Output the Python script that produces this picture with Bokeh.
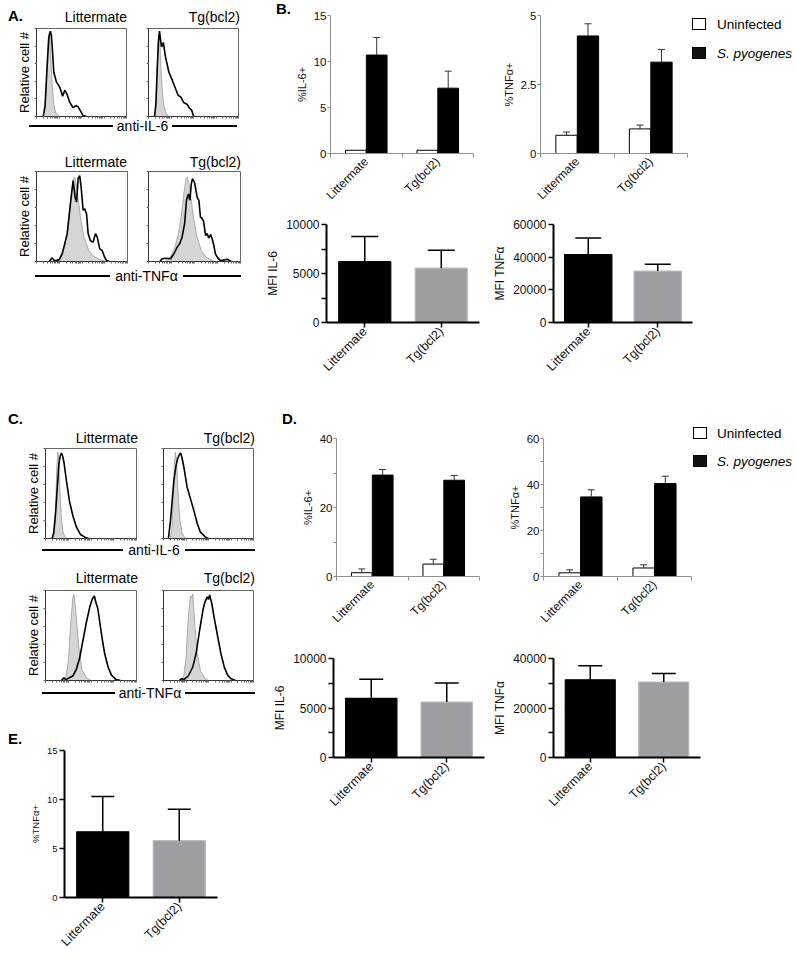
import math
from bokeh.plotting import figure
from bokeh.models import (Range1d, FixedTicker, ColumnDataSource, Whisker, TeeHead,
                          Div, Spacer)
from bokeh.layouts import row, column
from bokeh.embed import file_html
from bokeh.resources import INLINE

FONT = "Liberation Sans"
GRAY = "#9d9da2"
GRAY_EDGE = "#b9b9bd"
EXCEL_AXIS = "#8f8f8f"

# ---------------- data ----------------
categories = ["Littermate", "Tg(bcl2)"]
series_names = ["Uninfected", "S. pyogenes"]

# Panel B
b_il6_pct_uninf = [0.35, 0.35]
b_il6_pct_uninf_sem = [0.0, 0.0]
b_il6_pct_inf = [10.7, 7.1]
b_il6_pct_inf_sem = [1.9, 1.85]
b_tnf_pct_uninf = [0.66, 0.89]
b_tnf_pct_uninf_sem = [0.12, 0.14]
b_tnf_pct_inf = [4.26, 3.31]
b_tnf_pct_inf_sem = [0.44, 0.46]
b_mfi_il6 = [6210, 5545]
b_mfi_il6_sem = [2570, 1815]
b_mfi_tnf = [41600, 31500]
b_mfi_tnf_sem = [10100, 4100]

# Panel D
d_il6_pct_uninf = [1.1, 3.6]
d_il6_pct_uninf_sem = [1.1, 1.4]
d_il6_pct_inf = [29.4, 27.9]
d_il6_pct_inf_sem = [1.6, 1.4]
d_tnf_pct_uninf = [1.6, 3.7]
d_tnf_pct_uninf_sem = [1.3, 1.4]
d_tnf_pct_inf = [34.6, 40.4]
d_tnf_pct_inf_sem = [3.1, 3.2]
d_mfi_il6 = [5970, 5600]
d_mfi_il6_sem = [1930, 1930]
d_mfi_tnf = [31400, 30500]
d_mfi_tnf_sem = [5700, 3400]

# Panel E
e_tnf_pct = [6.7, 5.8]
e_tnf_pct_sem = [3.6, 3.2]

# y ticks: labelled ticks and unlabelled ticks
b_il6_ticks, b_il6_minor = [0, 5, 10, 15], []
b_il6_tick_labels = ["0", "5", "10", "15"]
b_tnf_ticks, b_tnf_minor = [0, 2.5, 5], []
b_tnf_tick_labels = ["0", "2.5", "5"]
mfi_il6_ticks, mfi_il6_minor = [0, 5000, 10000], [2500, 7500]
mfi_il6_tick_labels = ["0", "5000", "10000"]
b_mfi_tnf_ticks, b_mfi_tnf_minor = [0, 20000, 40000, 60000], []
b_mfi_tnf_tick_labels = ["0", "20000", "40000", "60000"]
d_il6_ticks, d_il6_minor = [0, 20, 40], [10, 30]
d_il6_tick_labels = ["0", "20", "40"]
d_tnf_ticks, d_tnf_minor = [0, 20, 40, 60], [10, 30, 50]
d_tnf_tick_labels = ["0", "20", "40", "60"]
d_mfi_tnf_ticks, d_mfi_tnf_minor = [0, 20000, 40000], [10000, 30000]
d_mfi_tnf_tick_labels = ["0", "20000", "40000"]
e_ticks, e_minor = [0, 5, 10, 15], []
e_tick_labels = ["0", "5", "10", "15"]

# Flow histograms (x: log decades 0-4, y: % of max)
a_il6_lit_iso_x = [0.28, 0.36, 0.42, 0.47, 0.52, 0.56, 0.60, 0.65, 0.71, 0.78, 0.86, 0.98]
a_il6_lit_iso_y = [0, 6, 25, 60, 88, 95, 88, 60, 30, 12, 4, 0]
a_il6_lit_x = [0.30, 0.38, 0.47, 0.55, 0.62, 0.66, 0.70, 0.77, 0.89, 1.04, 1.16, 1.26, 1.36,
               1.48, 1.63, 1.75, 1.85, 1.96, 2.07, 2.22]
a_il6_lit_y = [0, 12, 56, 90, 97, 92, 79, 50, 39, 33, 23, 30, 25, 16, 10, 12.5, 11, 6, 1, 0]
a_il6_tg_iso_x = [0.24, 0.31, 0.36, 0.40, 0.45, 0.50, 0.55, 0.60, 0.66, 0.75, 0.90]
a_il6_tg_iso_y = [0, 8, 30, 60, 93, 85, 58, 35, 16, 5, 0]
a_il6_tg_x = [0.27, 0.33, 0.39, 0.44, 0.49, 0.54, 0.58, 0.66, 0.76, 0.91, 1.06, 1.21, 1.32,
              1.44, 1.56, 1.71, 1.81, 1.92, 2.01]
a_il6_tg_y = [0, 15, 56, 85, 97, 86, 79, 84, 67, 50, 41, 31, 24, 22, 16, 14, 10, 7, 0]

a_tnf_lit_iso_x = [0.85, 1.0, 1.2, 1.35, 1.45, 1.55, 1.62, 1.68, 1.75, 1.85, 1.95, 2.1, 2.3,
                   2.5, 2.8, 3.05]
a_tnf_lit_iso_y = [0, 3, 14, 32, 55, 80, 92, 94, 85, 66, 46, 26, 12, 6, 2, 0]
a_tnf_lit_x = [0.55, 0.69, 0.78, 0.84, 1.0, 1.13, 1.35, 1.49, 1.61, 1.70, 1.76, 1.83, 1.90,
               1.96, 2.05, 2.12, 2.20, 2.27, 2.37, 2.49, 2.59, 2.67, 2.78, 2.89, 2.99, 3.08, 3.2]
a_tnf_lit_y = [0, 4, 1, 1, 2, 8.5, 31, 64, 90, 71, 66, 92, 95.5, 83, 57, 58.5, 53, 31, 23,
               21.5, 31, 27, 14, 12, 5, 1, 0]
a_tnf_tg_iso_x = [0.75, 0.9, 1.1, 1.3, 1.45, 1.55, 1.63, 1.68, 1.75, 1.85, 1.95, 2.1, 2.3,
                  2.5, 2.7, 2.9]
a_tnf_tg_iso_y = [0, 3, 12, 30, 55, 78, 92, 94, 88, 70, 50, 28, 12, 5, 2, 0]
a_tnf_tg_x = [0.5, 0.59, 0.74, 0.96, 1.10, 1.25, 1.36, 1.46, 1.57, 1.65, 1.73, 1.80, 1.86,
              1.91, 2.0, 2.12, 2.19, 2.26, 2.33, 2.40, 2.48, 2.55, 2.62, 2.70, 2.77, 2.84,
              2.91, 3.01, 3.13, 3.27, 3.42, 3.53, 3.6]
a_tnf_tg_y = [0, 3, 3.7, 3, 8.5, 16, 20, 27, 42, 68, 75, 68, 86, 92, 88, 71, 68, 49, 48, 44,
              29, 31, 26, 30, 25, 18, 8.5, 4, 1, 1.5, 2.5, 1, 0]

c_il6_lit_iso_x = [0.33, 0.40, 0.45, 0.50, 0.54, 0.58, 0.63, 0.70, 0.78, 0.90]
c_il6_lit_iso_y = [0, 10, 40, 80, 96, 88, 55, 22, 6, 0]
c_il6_lit_x = [0.29, 0.36, 0.44, 0.52, 0.59, 0.65, 0.70, 0.75, 0.81, 0.92, 1.05, 1.20, 1.36,
               1.54, 1.76, 1.90]
c_il6_lit_y = [0, 6, 27, 58, 83, 92, 95, 92, 85, 64, 42, 25.5, 12.6, 4.4, 1, 0]
c_il6_tg_iso_x = [0.30, 0.37, 0.43, 0.48, 0.53, 0.58, 0.64, 0.72, 0.82, 0.98]
c_il6_tg_iso_y = [0, 10, 42, 82, 96, 86, 55, 22, 6, 0]
c_il6_tg_x = [0.22, 0.31, 0.46, 0.55, 0.62, 0.70, 0.76, 0.82, 0.90, 1.05, 1.20, 1.35, 1.50,
              1.64, 1.87, 2.0]
c_il6_tg_y = [0, 20, 64, 80, 88, 93, 95, 90, 80, 57, 44, 31, 16.6, 7, 1.5, 0]

c_tnf_lit_iso_x = [0.75, 0.9, 1.0, 1.1, 1.2, 1.25, 1.32, 1.45, 1.6, 1.8, 2.0]
c_tnf_lit_iso_y = [0, 5, 20, 60, 92, 96, 80, 40, 12, 3, 0]
c_tnf_lit_x = [0.7, 0.8, 0.9, 1.05, 1.2, 1.35, 1.5, 1.65, 1.8, 1.95, 2.05, 2.15, 2.2, 2.3,
               2.4, 2.5, 2.6, 2.75, 2.9, 3.1, 3.3]
c_tnf_lit_y = [0, 3, 1, 3, 5, 12, 25, 45, 65, 82, 90, 94, 88, 80, 62, 45, 30, 15, 6, 1, 0]
c_tnf_tg_iso_x = [0.75, 0.9, 1.0, 1.1, 1.2, 1.25, 1.3, 1.4, 1.5, 1.65, 1.85, 2.0]
c_tnf_tg_iso_y = [0, 5, 25, 70, 94, 92, 96, 60, 30, 10, 2, 0]
c_tnf_tg_x = [0.7, 0.8, 0.9, 1.1, 1.3, 1.45, 1.6, 1.75, 1.85, 1.95, 2.0, 2.05, 2.15, 2.25,
              2.4, 2.55, 2.7, 2.85, 3.0, 3.2]
c_tnf_tg_y = [0, 2, 1, 5, 15, 30, 55, 78, 88, 93, 90, 95, 85, 70, 50, 30, 15, 6, 2, 0]

# ---------------- helpers ----------------
centers = [i + 0.5 for i in range(len(categories))]
LOG_TICKS = [d + math.log10(k) for d in range(4) for k in range(1, 10)] + [4]


def base_fig(w, h, l, r, t, b, xr, yr):
    p = figure(width=w, height=h, min_border_left=l, min_border_right=r,
               min_border_top=t, min_border_bottom=b, x_range=xr, y_range=yr,
               output_backend="svg", toolbar_location=None)
    p.grid.visible = False
    p.outline_line_color = None
    p.background_fill_color = "white"
    p.border_fill_color = "white"
    return p


def add_whisker(p, xs, vals, sems, color, lw, cap):
    keep = [k for k, s in enumerate(sems) if s > 0]
    if not keep:
        return
    src = ColumnDataSource(dict(x=[xs[k] for k in keep],
                                lo=[vals[k] for k in keep],
                                hi=[vals[k] + sems[k] for k in keep]))
    p.add_layout(Whisker(source=src, base="x", lower="lo", upper="hi",
                         line_color=color, line_width=lw, level="overlay",
                         upper_head=TeeHead(size=cap, line_color=color, line_width=lw),
                         lower_head=None))


def style_y(ax, ticks, minor, labels, ylabel, tick_size, label_size, color, lw, tick_out,
            label_standoff, axis_standoff):
    ax.ticker = FixedTicker(ticks=ticks, minor_ticks=minor)
    ax.major_label_overrides = {t: s for t, s in zip(ticks, labels)}
    ax.axis_line_color = color
    ax.axis_line_width = lw
    tw = 1.5 if lw > 1 else 1
    ax.major_tick_line_color = color
    ax.major_tick_line_width = tw
    ax.minor_tick_line_color = color
    ax.minor_tick_line_width = tw
    ax.major_tick_out = tick_out
    ax.major_tick_in = 0
    ax.minor_tick_out = tick_out
    ax.minor_tick_in = 0
    ax.major_label_standoff = label_standoff
    ax.major_label_text_font = FONT
    ax.major_label_text_font_size = f"{tick_size}px"
    ax.major_label_text_color = "#111111"
    ax.axis_label = ylabel
    ax.axis_label_text_font = FONT
    ax.axis_label_text_font_style = "normal"
    ax.axis_label_text_font_size = f"{label_size}px"
    ax.axis_label_text_color = "#111111"
    ax.axis_label_standoff = axis_standoff


def excel_chart(w, h, l, r, t, b, ymax, ticks, minor, labels, ylabel,
                uninf, uninf_sem, inf, inf_sem):
    p = base_fig(w, h, l, r, t, b, Range1d(0, len(categories)), Range1d(0, ymax))
    xu = [c - 0.146 for c in centers]
    xi = [c + 0.146 for c in centers]
    p.vbar(x="x", top="top", width=0.29, source=ColumnDataSource(dict(x=xu, top=uninf)),
           fill_color="white", line_color="black", line_width=1)
    p.vbar(x="x", top="top", width=0.29, source=ColumnDataSource(dict(x=xi, top=inf)),
           fill_color="black", line_color="black", line_width=1)
    add_whisker(p, xu, uninf, uninf_sem, "#333333", 1, 7)
    add_whisker(p, xi, inf, inf_sem, "#333333", 1, 7)
    style_y(p.yaxis[0], ticks, minor, labels, ylabel, 11.5, 11, EXCEL_AXIS, 1, 3, 1, 3)
    xa = p.xaxis[0]
    xa.ticker = FixedTicker(ticks=centers, minor_ticks=list(range(len(categories) + 1)))
    xa.major_label_overrides = {c: s for c, s in zip(centers, categories)}
    xa.axis_line_color = EXCEL_AXIS
    xa.major_tick_out = 0
    xa.major_tick_in = 0
    xa.minor_tick_out = 4
    xa.minor_tick_in = 0
    xa.minor_tick_line_color = EXCEL_AXIS
    xa.major_label_orientation = math.pi / 4
    xa.major_label_standoff = 2
    xa.major_label_text_font = FONT
    xa.major_label_text_font_size = "12px"
    xa.major_label_text_color = "#111111"
    return p


def prism_chart(w, h, l, r, t, b, ymax, ticks, minor, labels, ylabel, vals, sems,
                tick_size=12, label_size=12, cap=25, cat_size=12.5):
    p = base_fig(w, h, l, r, t, b, Range1d(0, len(categories)), Range1d(0, ymax))
    colors = ["black", GRAY]
    edges = ["black", GRAY_EDGE]
    p.vbar(x="x", top="top", width=0.68, fill_color="color", line_color="edge",
           line_width=1.2,
           source=ColumnDataSource(dict(x=centers, top=vals, color=colors, edge=edges)))
    add_whisker(p, centers, vals, sems, "black", 1.5, cap)
    style_y(p.yaxis[0], ticks, minor, labels, ylabel, tick_size, label_size, "black", 2, 5, 2, 3)
    xa = p.xaxis[0]
    xa.ticker = FixedTicker(ticks=centers)
    xa.major_label_overrides = {c: s for c, s in zip(centers, categories)}
    xa.axis_line_color = "black"
    xa.axis_line_width = 2
    xa.major_tick_line_color = "black"
    xa.major_tick_line_width = 1.5
    xa.major_tick_out = 5
    xa.major_tick_in = 0
    xa.minor_tick_out = 0
    xa.minor_tick_in = 0
    xa.major_label_orientation = math.pi / 4
    xa.major_label_standoff = 2
    xa.major_label_text_font = FONT
    xa.major_label_text_font_size = f"{cat_size}px"
    xa.major_label_text_color = "#111111"
    return p


def hist_fig(w, h, l, r, t, b, gx, gy, bx, by, ylabel=None):
    p = base_fig(w, h, l, r, t, b, Range1d(0, 4), Range1d(0, 100))
    p.outline_line_color = "#666666"
    p.outline_line_width = 1
    p.varea(x=gx, y1=0, y2=gy, fill_color="#d5d5d5")
    p.line(gx, gy, line_color="#9a9a9a", line_width=0.8)
    p.line(bx, by, line_color="black", line_width=1.6)
    xa = p.xaxis[0]
    xa.ticker = FixedTicker(ticks=[], minor_ticks=LOG_TICKS)
    xa.axis_line_color = "#333333"
    xa.major_tick_out = 0
    xa.minor_tick_out = 2
    xa.minor_tick_in = 0
    xa.minor_tick_line_color = "#666666"
    xa.major_label_standoff = 0
    ya = p.yaxis[0]
    ya.ticker = FixedTicker(ticks=[], minor_ticks=[0, 20, 40, 60, 80, 100])
    ya.axis_line_color = "#333333"
    ya.major_tick_out = 0
    ya.minor_tick_out = 2
    ya.minor_tick_in = 0
    ya.minor_tick_line_color = "#666666"
    ya.major_label_standoff = 0
    if ylabel:
        ya.axis_label = ylabel
        ya.axis_label_text_font = FONT
        ya.axis_label_text_font_style = "normal"
        ya.axis_label_text_font_size = "13px"
        ya.axis_label_text_color = "#000000"
        ya.axis_label_standoff = 3
    return p


DIV_FONT = "font-family:'Liberation Sans',Arial,sans-serif;color:#000;"


def block(width, height, parts):
    html = (f'<div style="position:relative;width:{width}px;height:{height}px;{DIV_FONT}">'
            + "".join(parts) + "</div>")
    return Div(text=html, width=width, height=height, margin=0)


def text_block(width, height, items):
    parts = []
    for left, top, w, align, text, size, bold in items:
        parts.append(
            f'<div style="position:absolute;left:{left}px;top:{top}px;width:{w}px;'
            f'text-align:{align};font-size:{size}px;line-height:{size}px;'
            f'font-weight:{"bold" if bold else "normal"};white-space:nowrap;">{text}</div>')
    return block(width, height, parts)


def rule_block(width, height, line_y, segs, text, center, text_top, size=14):
    parts = []
    for left, w in segs:
        parts.append(f'<div style="position:absolute;left:{left}px;top:{line_y - 1}px;'
                     f'width:{w}px;height:2px;background:#000;"></div>')
    parts.append(f'<div style="position:absolute;left:{center - 50}px;top:{text_top}px;'
                 f'width:100px;text-align:center;font-size:{size}px;line-height:{size}px;'
                 f'white-space:nowrap;">{text}</div>')
    return block(width, height, parts)


def legend_block(width, height, x, tops, text_gap, size=13.5):
    fills = ["#ffffff", "#111111"]
    styles = ["normal", "italic"]
    parts = []
    for top, fill, name, style in zip(tops, fills, series_names, styles):
        parts.append(f'<div style="position:absolute;left:{x}px;top:{top}px;width:14px;'
                     f'height:12px;border:1px solid #000;background:{fill};"></div>')
        ttop = top + 7 - 0.49 * size
        parts.append(f'<div style="position:absolute;left:{x + 16 + text_gap}px;top:{ttop}px;'
                     f'font-size:{size}px;line-height:{size}px;font-style:{style};'
                     f'white-space:nowrap;">{name}</div>')
    return block(width, height, parts)


LW = 254  # left column width
LS = 15   # panel letter size

# ---------------- left column ----------------
a_titles = text_block(LW, 18, [(0, 0, 30, "left", "A.", LS, True),
                               (19, 2, 100, "right", categories[0], 14, False),
                               (132, 2, 100, "right", categories[1], 14, False)])
hA1L = hist_fig(120, 94, 28, 2, 2, 4, a_il6_lit_iso_x, a_il6_lit_iso_y,
                a_il6_lit_x, a_il6_lit_y, "Relative cell #")
hA1R = hist_fig(96, 94, 2, 4, 2, 4, a_il6_tg_iso_x, a_il6_tg_iso_y, a_il6_tg_x, a_il6_tg_y)
a_rule1 = rule_block(LW, 18, 6, [(21, 84), (164, 65)], "anti-IL-6", 134.5, -1)

a_titles2 = text_block(LW, 17, [(19, 3, 100, "right", categories[0], 14, False),
                                (133, 3, 100, "right", categories[1], 14, False)])
hA2L = hist_fig(121, 96, 28, 2, 2, 4, a_tnf_lit_iso_x, a_tnf_lit_iso_y,
                a_tnf_lit_x, a_tnf_lit_y, "Relative cell #")
hA2R = hist_fig(96, 96, 2, 2, 2, 4, a_tnf_tg_iso_x, a_tnf_tg_iso_y, a_tnf_tg_x, a_tnf_tg_y)
a_rule2 = rule_block(LW, 22, 11, [(27, 75), (175, 58)], "anti-TNF&alpha;", 138.5, 4)

c_titles = text_block(LW, 36, [(0, 1, 30, "left", "C.", LS, True),
                               (30, 21, 100, "right", categories[0], 14, False),
                               (147, 21, 100, "right", categories[1], 14, False)])
hC1L = hist_fig(130, 96, 37, 2, 2, 4, c_il6_lit_iso_x, c_il6_lit_iso_y,
                c_il6_lit_x, c_il6_lit_y, "Relative cell #")
hC1R = hist_fig(94, 96, 2, 2, 2, 4, c_il6_tg_iso_x, c_il6_tg_iso_y, c_il6_tg_x, c_il6_tg_y)
c_rule1 = rule_block(LW, 18, 8, [(34, 81), (177, 70)], "anti-IL-6", 146, 1)

c_titles2 = text_block(LW, 18, [(30, 1, 100, "right", categories[0], 14, False),
                                (147, 1, 100, "right", categories[1], 14, False)])
hC2L = hist_fig(130, 96, 37, 2, 2, 4, c_tnf_lit_iso_x, c_tnf_lit_iso_y,
                c_tnf_lit_x, c_tnf_lit_y, "Relative cell #")
hC2R = hist_fig(94, 96, 2, 2, 2, 4, c_tnf_tg_iso_x, c_tnf_tg_iso_y, c_tnf_tg_x, c_tnf_tg_y)
c_rule2 = rule_block(LW, 18, 9, [(34, 73), (177, 70)], "anti-TNF&alpha;", 142, 2)

e_title = text_block(LW, 18, [(0, 5, 30, "left", "E.", LS, True)])
e_fig = prism_chart(LW, 214, 56, 45, 6, 61, 15, e_ticks, e_minor, e_tick_labels, "%TNF\u03b1+",
                    e_tnf_pct, e_tnf_pct_sem, tick_size=9.5, label_size=9.5, cap=23,
                    cat_size=12.5)

left_col = column(
    Spacer(width=LW, height=8),
    a_titles,
    row(hA1L, Spacer(width=18, height=94), hA1R),
    a_rule1,
    Spacer(width=LW, height=14),
    a_titles2,
    row(hA2L, Spacer(width=17, height=96), hA2R),
    a_rule2,
    Spacer(width=LW, height=123),
    c_titles,
    row(hC1L, Spacer(width=23, height=96), hC1R),
    c_rule1,
    Spacer(width=LW, height=10),
    c_titles2,
    row(hC2L, Spacer(width=23, height=96), hC2R),
    c_rule2,
    Spacer(width=LW, height=24),
    e_title,
    e_fig,
)

# ---------------- right column (starts at page y = 0) ----------------
b_letter = text_block(30, 210, [(14, 1, 20, "left", "B.", LS, True)])
b1 = excel_chart(198, 210, 34, 17, 15, 56, 15, b_il6_ticks, b_il6_minor, b_il6_tick_labels,
                 "%IL-6+", b_il6_pct_uninf, b_il6_pct_uninf_sem, b_il6_pct_inf,
                 b_il6_pct_inf_sem)
b2 = excel_chart(198, 210, 50, 1, 15, 56, 5, b_tnf_ticks, b_tnf_minor, b_tnf_tick_labels,
                 "%TNF\u03b1+", b_tnf_pct_uninf, b_tnf_pct_uninf_sem,
                 b_tnf_pct_inf, b_tnf_pct_inf_sem)
b_leg = legend_block(108, 210, 4, [18, 47], 9)

b3 = prism_chart(228, 175, 64, 11, 11, 63, 10000, mfi_il6_ticks, mfi_il6_minor,
                 mfi_il6_tick_labels, "MFI IL-6", b_mfi_il6, b_mfi_il6_sem, cap=27)
b4 = prism_chart(298, 175, 51, 96, 14, 60, 60000, b_mfi_tnf_ticks, b_mfi_tnf_minor,
                 b_mfi_tnf_tick_labels, "MFI TNF\u03b1", b_mfi_tnf, b_mfi_tnf_sem, cap=26)

d_letter = text_block(36, 231, [(20, 6, 16, "left", "D.", LS, True)])
d1 = excel_chart(192, 231, 33, 11, 32, 60, 40, d_il6_ticks, d_il6_minor, d_il6_tick_labels,
                 "%IL-6+", d_il6_pct_uninf, d_il6_pct_uninf_sem, d_il6_pct_inf,
                 d_il6_pct_inf_sem)
d2 = excel_chart(202, 231, 53, 1, 33, 58, 60, d_tnf_ticks, d_tnf_minor, d_tnf_tick_labels,
                 "%TNF\u03b1+", d_tnf_pct_uninf, d_tnf_pct_uninf_sem,
                 d_tnf_pct_inf, d_tnf_pct_inf_sem)
d_leg = legend_block(104, 231, 1, [22, 50], 8)

d3 = prism_chart(228, 188, 71, 6, 22, 66, 10000, mfi_il6_ticks, mfi_il6_minor,
                 mfi_il6_tick_labels, "MFI IL-6", d_mfi_il6, d_mfi_il6_sem, cap=24)
d4 = prism_chart(298, 188, 58, 88, 20, 67, 40000, d_mfi_tnf_ticks, d_mfi_tnf_minor,
                 d_mfi_tnf_tick_labels, "MFI TNF\u03b1", d_mfi_tnf, d_mfi_tnf_sem, cap=24)

right_col = column(
    row(b_letter, b1, b2, b_leg),
    row(b3, b4),
    Spacer(width=534, height=20),
    row(d_letter, d1, d2, d_leg),
    row(d3, d4),
)

root = row(Spacer(width=8, height=958), left_col, right_col)

with open("out.html", "w") as f:
    f.write(file_html(root, INLINE, title="Figure"))
